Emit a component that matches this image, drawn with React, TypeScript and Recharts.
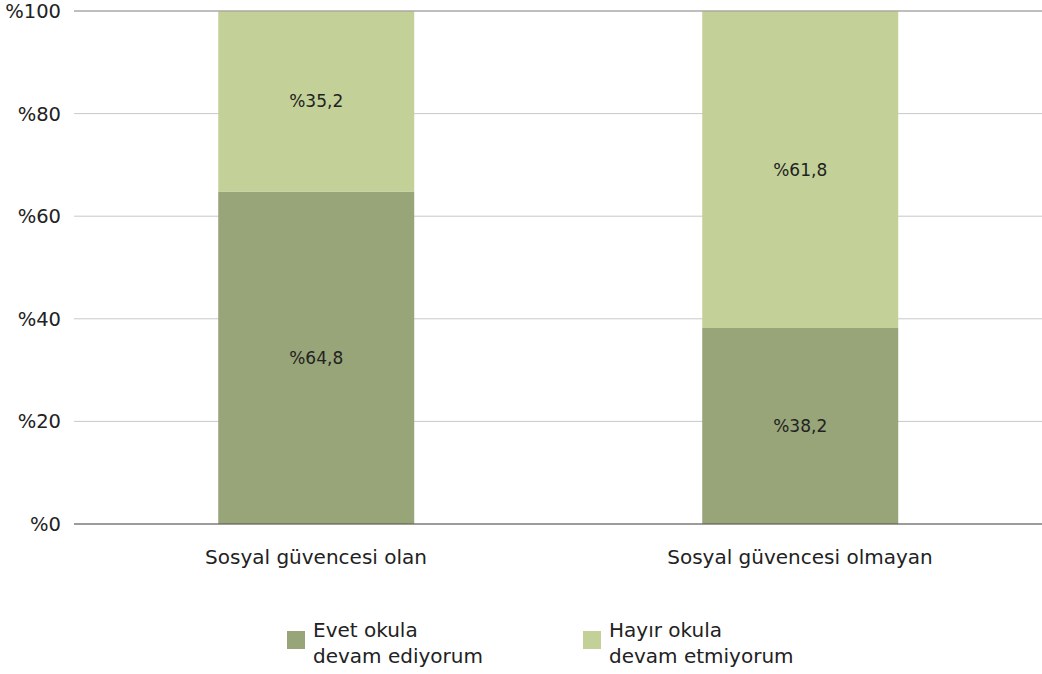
import React from "react";
import { BarChart, Bar, XAxis, YAxis, CartesianGrid, ReferenceLine, LabelList } from "recharts";

const categories = ["Sosyal güvencesi olan", "Sosyal güvencesi olmayan"];
const evet = [64.8, 38.2];
const hayir = [35.2, 61.8];
const yTicks = [0, 20, 40, 60, 80, 100];
const seriesNames = [["Evet okula", "devam ediyorum"], ["Hayır okula", "devam etmiyorum"]];
const colors = ["#98A578", "#C3D198"];

const data = categories.map((c, i) => ({ name: c, evet: evet[i], hayir: hayir[i] }));

const FONT = "'DejaVu Sans', sans-serif";
const fmt = (v: number) => "%" + String(v).replace(".", ",");

const LegendBlock = () => (
  <div style={{ position: "absolute", left: 0, top: 617, width: 1042, height: 57, fontFamily: FONT }}>
    {seriesNames.map((lines, i) => (
      <div key={i} style={{ position: "absolute", left: i === 0 ? 287 : 583, top: 0, display: "flex" }}>
        <div style={{ width: 18, height: 18, background: colors[i], marginTop: 14, marginRight: 8 }} />
        <div style={{ fontSize: 20, lineHeight: "26px", color: "#222" }}>
          {lines.map((l, j) => <div key={j}>{l}</div>)}
        </div>
      </div>
    ))}
  </div>
);

export default function App() {
  return (
    <div style={{ position: "absolute", left: 0, top: 0, width: 1042, height: 674 }}>
      <style>{`body{margin:0}`}</style>
      <BarChart width={1042} height={674} data={data} margin={{ top: 11, right: 0, left: 0, bottom: 120 }} barCategoryGap="29.8%">
        <CartesianGrid vertical={false} stroke="#c9c9c9" />
        <XAxis dataKey="name" axisLine={false} tickLine={false} height={30} tick={{ fontSize: 20, fill: "#222", fontFamily: FONT }} dy={18} />
        <YAxis domain={[0, 100]} ticks={yTicks} width={74} axisLine={false} tickLine={false} tickFormatter={(v) => "%" + v} tick={{ fontSize: 19.5, fill: "#222", fontFamily: FONT }} dx={-5} />
        <ReferenceLine y={100} stroke="#999" />
        <Bar dataKey="evet" stackId="a" fill={colors[0]} isAnimationActive={false}>
          <LabelList dataKey="evet" position="center" formatter={(v: any) => fmt(v)} style={{ fontSize: 17, fill: "#222", fontFamily: FONT }} />
        </Bar>
        <Bar dataKey="hayir" stackId="a" fill={colors[1]} isAnimationActive={false}>
          <LabelList dataKey="hayir" position="center" formatter={(v: any) => fmt(v)} style={{ fontSize: 17, fill: "#222", fontFamily: FONT }} />
        </Bar>
        <ReferenceLine y={0} stroke="#555" />
      </BarChart>
      <LegendBlock />
    </div>
  );
}
